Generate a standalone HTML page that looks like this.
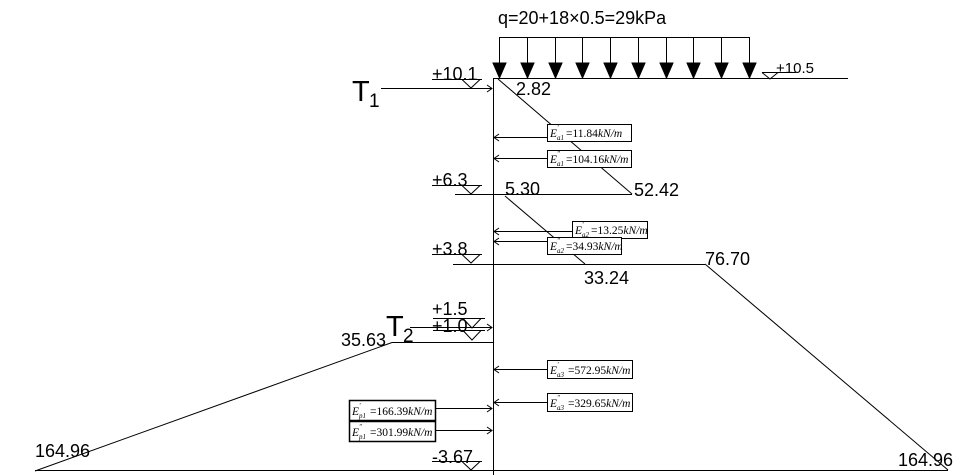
<!DOCTYPE html>
<html><head><meta charset="utf-8"><style>
html,body{margin:0;padding:0;background:#fff;}
svg{display:block;}
.t{font-family:"Liberation Sans",sans-serif;fill:#000;}
.e{font-family:"Liberation Serif",serif;font-size:11.5px;fill:#000;}
.e .i{font-style:italic;}
.e .s{font-size:7px;font-style:italic;}
</style></head><body>
<svg width="966" height="475" viewBox="0 0 966 475" xmlns="http://www.w3.org/2000/svg">
<g stroke="#000" stroke-width="1" fill="none">
<line x1="493.5" y1="78" x2="493.5" y2="475"/>
<line x1="493" y1="78.5" x2="848" y2="78.5"/>
<line x1="499" y1="37.5" x2="749" y2="37.5"/>
<polyline points="498,79 632,194"/>
<line x1="455" y1="194.5" x2="632" y2="194.5"/>
<polyline points="505,196 585,264"/>
<line x1="453" y1="264.5" x2="705" y2="264.5"/>
<polyline points="705,264 948,470"/>
<line x1="35" y1="470.5" x2="948" y2="470.5"/>
<polyline points="35,471 392,342.5 493,342.5"/>
<line x1="381" y1="88.5" x2="492" y2="88.5"/>
<polyline points="487,85 492,88.5 487,92"/>
<line x1="410" y1="327.5" x2="492" y2="327.5"/>
<polyline points="487,324 492,327.5 487,331"/>
<line x1="432" y1="79.5" x2="482" y2="79.5"/><polyline points="462,79.5 471,88 480,79.5"/>
<line x1="432" y1="185.5" x2="482" y2="185.5"/><polyline points="462,185.5 471,194 480,185.5"/>
<line x1="432" y1="254.5" x2="482" y2="254.5"/><polyline points="462,254.5 471,263 480,254.5"/>
<line x1="433" y1="318.5" x2="485" y2="318.5"/><polyline points="463,318.5 472,328 481,318.5"/>
<line x1="433" y1="330.5" x2="485" y2="330.5"/><polyline points="463,330.5 472,340 481,330.5"/>
<line x1="432" y1="461.5" x2="482" y2="461.5"/><polyline points="462,461.5 471,470 480,461.5"/>
<line x1="762" y1="72.5" x2="796" y2="72.5"/><polyline points="762,72.5 770,79 778,72.5"/>
<line x1="494" y1="137.5" x2="547" y2="137.5"/><polyline points="499,134 494,137.5 499,141"/>
<line x1="494" y1="158.5" x2="547" y2="158.5"/><polyline points="499,155 494,158.5 499,162"/>
<line x1="494" y1="231.5" x2="572" y2="231.5"/><polyline points="499,228 494,231.5 499,235"/>
<line x1="494" y1="241.5" x2="547" y2="241.5"/><polyline points="499,238 494,241.5 499,245"/>
<line x1="494" y1="369.5" x2="547" y2="369.5"/><polyline points="499,366 494,369.5 499,373"/>
<line x1="494" y1="402.5" x2="547" y2="402.5"/><polyline points="499,399 494,402.5 499,406"/>
<line x1="435" y1="408.5" x2="492" y2="408.5"/><polyline points="487,405 492,408.5 487,412"/>
<line x1="435" y1="430.5" x2="492" y2="430.5"/><polyline points="487,427 492,430.5 487,434"/>
<rect x="547.5" y="124.5" width="84" height="17" fill="#fff"/>
<rect x="547.5" y="150.5" width="84" height="17" fill="#fff"/>
<rect x="572.5" y="221.5" width="75" height="17" fill="#fff"/>
<rect x="547.5" y="237.5" width="74" height="17" fill="#fff"/>
<rect x="547.5" y="360.5" width="85" height="18" fill="#fff"/>
<rect x="547.5" y="393.5" width="85" height="18" fill="#fff"/>
<rect x="349.5" y="400.5" width="86" height="20" fill="#fff" stroke-width="1.5"/>
<rect x="349.5" y="421.5" width="86" height="20" fill="#fff" stroke-width="1.5"/>
</g>
<g fill="#000" stroke="#000">
<line x1="499.5" y1="37" x2="499.5" y2="64"/><polygon points="493,63 506,63 499.5,78"/>
<line x1="527.5" y1="37" x2="527.5" y2="64"/><polygon points="521,63 534,63 527.5,78"/>
<line x1="555.5" y1="37" x2="555.5" y2="64"/><polygon points="549,63 562,63 555.5,78"/>
<line x1="582.5" y1="37" x2="582.5" y2="64"/><polygon points="576,63 589,63 582.5,78"/>
<line x1="610.5" y1="37" x2="610.5" y2="64"/><polygon points="604,63 617,63 610.5,78"/>
<line x1="638.5" y1="37" x2="638.5" y2="64"/><polygon points="632,63 645,63 638.5,78"/>
<line x1="666.5" y1="37" x2="666.5" y2="64"/><polygon points="660,63 673,63 666.5,78"/>
<line x1="693.5" y1="37" x2="693.5" y2="64"/><polygon points="687,63 700,63 693.5,78"/>
<line x1="721.5" y1="37" x2="721.5" y2="64"/><polygon points="715,63 728,63 721.5,78"/>
<line x1="749.5" y1="37" x2="749.5" y2="64"/><polygon points="743,63 756,63 749.5,78"/>
</g>
<g class="t" font-size="18">
<text x="498" y="24">q=20+18×0.5=29kPa</text>
<text x="432" y="80">+10.1</text>
<text x="516" y="95">2.82</text>
<text x="776" y="73" font-size="15">+10.5</text>
<text x="432" y="186">+6.3</text>
<text x="505" y="195">5.30</text>
<text x="634" y="196">52.42</text>
<text x="432" y="255">+3.8</text>
<text x="584" y="284">33.24</text>
<text x="705" y="265">76.70</text>
<text x="432" y="315">+1.5</text>
<text x="432" y="332">+1.0</text>
<text x="341" y="346">35.63</text>
<text x="35" y="457">164.96</text>
<text x="898" y="466">164.96</text>
<text x="432" y="463">-3.67</text>
<text x="352" y="101" font-size="29">T</text><text x="369" y="107" font-size="19">1</text>
<text x="386" y="336" font-size="29">T</text><text x="403" y="342" font-size="19">2</text>
</g>
<g class="e">
<text class="i" x="550" y="137">E</text><text class="s" x="557" y="140">a1</text><text class="s" x="557" y="130">'</text><text x="566" y="137">=11.84<tspan class="i">kN/m</tspan></text>
<text class="i" x="550" y="163">E</text><text class="s" x="557" y="166">a1</text><text class="s" x="557" y="156">''</text><text x="566" y="163">=104.16<tspan class="i">kN/m</tspan></text>
<text class="i" x="575" y="234">E</text><text class="s" x="582" y="237">a2</text><text class="s" x="582" y="227">'</text><text x="591" y="234">=13.25<tspan class="i">kN/m</tspan></text>
<text class="i" x="550" y="250">E</text><text class="s" x="557" y="253">a2</text><text class="s" x="557" y="243">''</text><text x="566" y="250">=34.93<tspan class="i">kN/m</tspan></text>
<text class="i" x="550" y="374">E</text><text class="s" x="557" y="377">a3</text><text class="s" x="557" y="367">'</text><text x="568" y="374">=572.95<tspan class="i">kN/m</tspan></text>
<text class="i" x="550" y="407">E</text><text class="s" x="557" y="410">a3</text><text class="s" x="557" y="400">''</text><text x="568" y="407">=329.65<tspan class="i">kN/m</tspan></text>
<text class="i" x="352" y="415">E</text><text class="s" x="359" y="418">p1</text><text class="s" x="359" y="408">'</text><text x="370" y="415">=166.39<tspan class="i">kN/m</tspan></text>
<text class="i" x="352" y="436">E</text><text class="s" x="359" y="439">p1</text><text class="s" x="359" y="429">''</text><text x="370" y="436">=301.99<tspan class="i">kN/m</tspan></text>
</g>
</svg>
</body></html>
